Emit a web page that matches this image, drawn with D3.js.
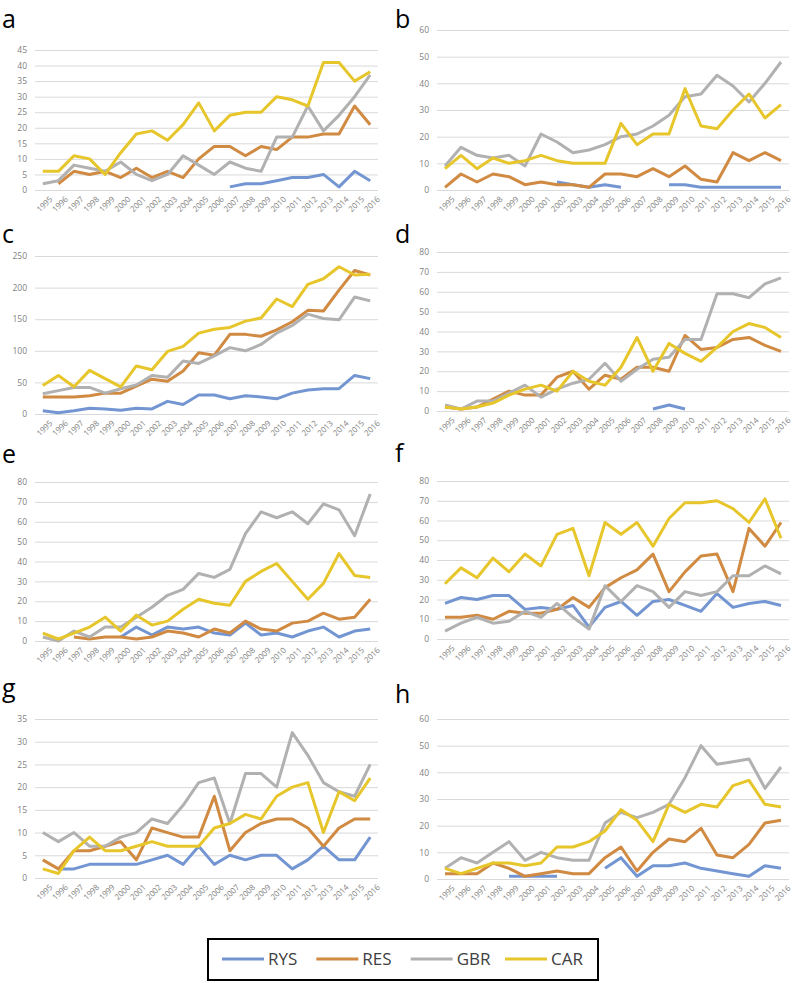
<!DOCTYPE html>
<html>
<head>
<meta charset="utf-8">
<title>RYS RES GBR CAR</title>
<style>
  body { margin: 0; background: #fff; }
  svg { display: block; font-family: "Open Sans", "Noto Sans", sans-serif; }
</style>
</head>
<body>
<main></main>
<script src="https://cdn.jsdelivr.net/npm/d3@7"></script>
<script>
// years on the category axis
var years = d3.range(1995, 2017).map(String);
var seriesNames = ["RYS", "RES", "GBR", "CAR"];
var seriesColors = ["#7396d2", "#d08a42", "#b1b1b1", "#e7c62b"];

// per panel: [RYS, RES, GBR, CAR], null = no value
var panelA = [
  [null,null,null,null,null,null,null,null,null,null,null,null,1,2,2,3,4,4,5,1,6,3],
  [null,2,6,5,6,4,7,4,6,4,10,14,14,11,14,13,17,17,18,18,27,21],
  [2,3,8,7,6,9,5,3,5,11,8,5,9,7,6,17,17,27,19,24,30,37],
  [6,6,11,10,5,12,18,19,16,21,28,19,24,25,25,30,29,27,41,41,35,38]
];
var panelB = [
  [null,null,null,null,null,null,null,3,2,1,2,1,null,null,2,2,1,1,1,1,1,1],
  [1,6,3,6,5,2,3,2,2,1,6,6,5,8,5,9,4,3,14,11,14,11],
  [9,16,13,12,13,9,21,18,14,15,17,20,21,24,28,35,36,43,39,33,40,48],
  [8,13,8,12,10,11,13,11,10,10,10,25,17,21,21,38,24,23,30,36,27,32]
];
var panelC = [
  [5,2,5,9,8,6,9,8,20,15,30,30,24,29,27,24,33,38,40,40,61,56],
  [27,27,27,29,33,33,44,55,52,68,97,93,126,126,123,133,146,164,163,196,227,220],
  [32,37,42,42,33,40,46,61,58,84,80,92,105,100,110,128,140,158,151,149,185,179],
  [45,61,43,69,56,43,76,70,99,107,128,134,137,147,152,182,170,205,214,233,220,221]
];
var panelD = [
  [null,null,null,null,null,null,null,null,null,null,null,null,null,1,3,1,null,null,null,null,null,null],
  [2,1,2,6,10,8,8,17,20,11,18,16,22,22,20,38,31,32,36,37,33,30],
  [3,1,5,5,9,13,7,11,14,16,24,15,21,26,27,36,36,59,59,57,64,67],
  [2,1,2,4,8,11,13,10,20,15,13,22,37,20,34,29,25,32,40,44,42,37]
];
var panelE = [
  [null,null,null,null,null,2,7,3,7,6,7,4,3,9,3,4,2,5,7,2,5,6],
  [null,null,2,1,2,2,1,2,5,4,2,6,4,10,6,5,9,10,14,11,12,21],
  [2,0,5,2,7,7,12,17,23,26,34,32,36,54,65,62,65,59,69,66,53,74],
  [4,1,4,7,12,5,13,8,10,16,21,19,18,30,35,39,30,21,29,44,33,32]
];
var panelF = [
  [18,21,20,22,22,15,16,15,17,6,16,19,12,19,20,17,14,23,16,18,19,17],
  [11,11,12,10,14,13,13,15,21,16,26,31,35,43,24,34,42,43,24,56,47,59],
  [4,8,11,8,9,14,11,18,11,5,27,19,27,24,16,24,22,24,32,32,37,33],
  [28,36,31,41,34,43,37,53,56,32,59,53,59,47,61,69,69,70,66,59,71,51]
];
var panelG = [
  [null,2,2,3,3,3,3,4,5,3,7,3,5,4,5,5,2,4,7,4,4,9],
  [4,2,6,6,7,8,4,11,10,9,9,18,6,10,12,13,13,11,7,11,13,13],
  [10,8,10,7,7,9,10,13,12,16,21,22,12,23,23,20,32,27,21,19,18,25],
  [2,1,6,9,6,6,7,8,7,7,7,11,12,14,13,18,20,21,10,19,17,22]
];
var panelH = [
  [null,null,null,null,1,1,1,1,null,null,4,8,1,5,5,6,4,3,2,1,5,4],
  [2,2,2,6,4,1,2,3,2,2,8,12,3,10,15,14,19,9,8,13,21,22],
  [4,8,6,10,14,7,10,8,7,7,21,25,23,25,28,38,50,43,44,45,34,42],
  [4,2,4,6,6,5,6,12,12,14,18,26,22,14,28,25,28,27,35,37,28,27]
];

// y axis maximum and tick step per panel
var panelLetters = ["a", "b", "c", "d", "e", "f", "g", "h"];
var panelMax = [45, 60, 250, 80, 80, 80, 35, 60];
var panelStep = [5, 10, 50, 10, 10, 10, 5, 10];

var panelData = [panelA, panelB, panelC, panelD, panelE, panelF, panelG, panelH];

// layout of the 4x2 grid of panels
var width = 792, height = 983;
var cols = [{x0: 35, x1: 378, lx: 2}, {x0: 437, x1: 789, lx: 395}];
var rows = [
  {top: [50, 30], bottom: [190, 190], ly: [27.5, 27.5]},
  {top: [256, 252], bottom: [414, 411], ly: [243, 243]},
  {top: [482, 481], bottom: [641, 639], ly: [463, 462]},
  {top: [719, 719], bottom: [878, 879], ly: [697, 703]}
];

var svg = d3.select("main").append("svg")
  .attr("width", width).attr("height", height);

panelData.forEach(function (data, i) {
  var r = rows[Math.floor(i / 2)], c = cols[i % 2], k = i % 2;
  var top = r.top[k], bottom = r.bottom[k];

  var x = d3.scalePoint().domain(years).range([c.x0, c.x1]).padding(0.5);
  var y = d3.scaleLinear().domain([0, panelMax[i]]).range([bottom, top]);
  var ticks = d3.range(0, panelMax[i] + 0.001, panelStep[i]);

  var g = svg.append("g");

  // panel letter
  g.append("text")
    .attr("x", c.lx).attr("y", r.ly[k])
    .attr("font-size", 25)
    .attr("fill", "#000")
    .text(panelLetters[i]);

  // horizontal gridlines + labels
  var yAxis = d3.axisLeft(y).tickValues(ticks).tickSize(-(c.x1 - c.x0)).tickPadding(8);
  var ya = g.append("g").attr("transform", "translate(" + c.x0 + ",0)").call(yAxis);
  ya.select(".domain").remove();
  ya.selectAll("line").attr("stroke", "#d9d9d9");
  ya.selectAll("text").attr("fill", "#7f7f7f").attr("font-size", 8.5)
    .attr("font-family", "'Open Sans', sans-serif");

  // category labels, rotated
  var xAxis = d3.axisBottom(x).tickSize(0).tickPadding(4);
  var xa = g.append("g").attr("transform", "translate(0," + bottom + ")").call(xAxis);
  xa.select(".domain").remove();
  xa.selectAll("text")
    .attr("fill", "#7f7f7f").attr("font-size", 8)
    .attr("font-family", "'Open Sans', sans-serif")
    .attr("text-anchor", "end")
    .attr("dy", "0.5em")
    .attr("transform", "translate(4,4) rotate(-45)");

  var line = d3.line()
    .defined(function (d) { return d != null; })
    .x(function (d, j) { return x(years[j]); })
    .y(function (d) { return y(d); });

  g.selectAll("path.series").data(data).enter().append("path")
    .attr("class", "series")
    .attr("fill", "none")
    .attr("stroke", function (d, j) { return seriesColors[j]; })
    .attr("stroke-width", 3)
    .attr("stroke-linejoin", "round")
    .attr("d", line);
});

// legend box
var legend = svg.append("g");
legend.append("rect")
  .attr("x", 208).attr("y", 939)
  .attr("width", 390).attr("height", 41)
  .attr("fill", "#fff").attr("stroke", "#000").attr("stroke-width", 2);

var legendX = d3.scalePoint().domain(seriesNames).range([222, 505]);
var items = legend.selectAll("g.item").data(seriesNames).enter().append("g")
  .attr("class", "item")
  .attr("transform", function (d) { return "translate(" + legendX(d) + ",959)"; });
items.append("line")
  .attr("x1", 0).attr("x2", 42)
  .attr("stroke", function (d, j) { return seriesColors[j]; })
  .attr("stroke-width", 3);
items.append("text")
  .attr("x", 46).attr("dy", "0.35em")
  .attr("font-size", 17).attr("fill", "#404040")
  .text(function (d) { return d; });
</script>
</body>
</html>
